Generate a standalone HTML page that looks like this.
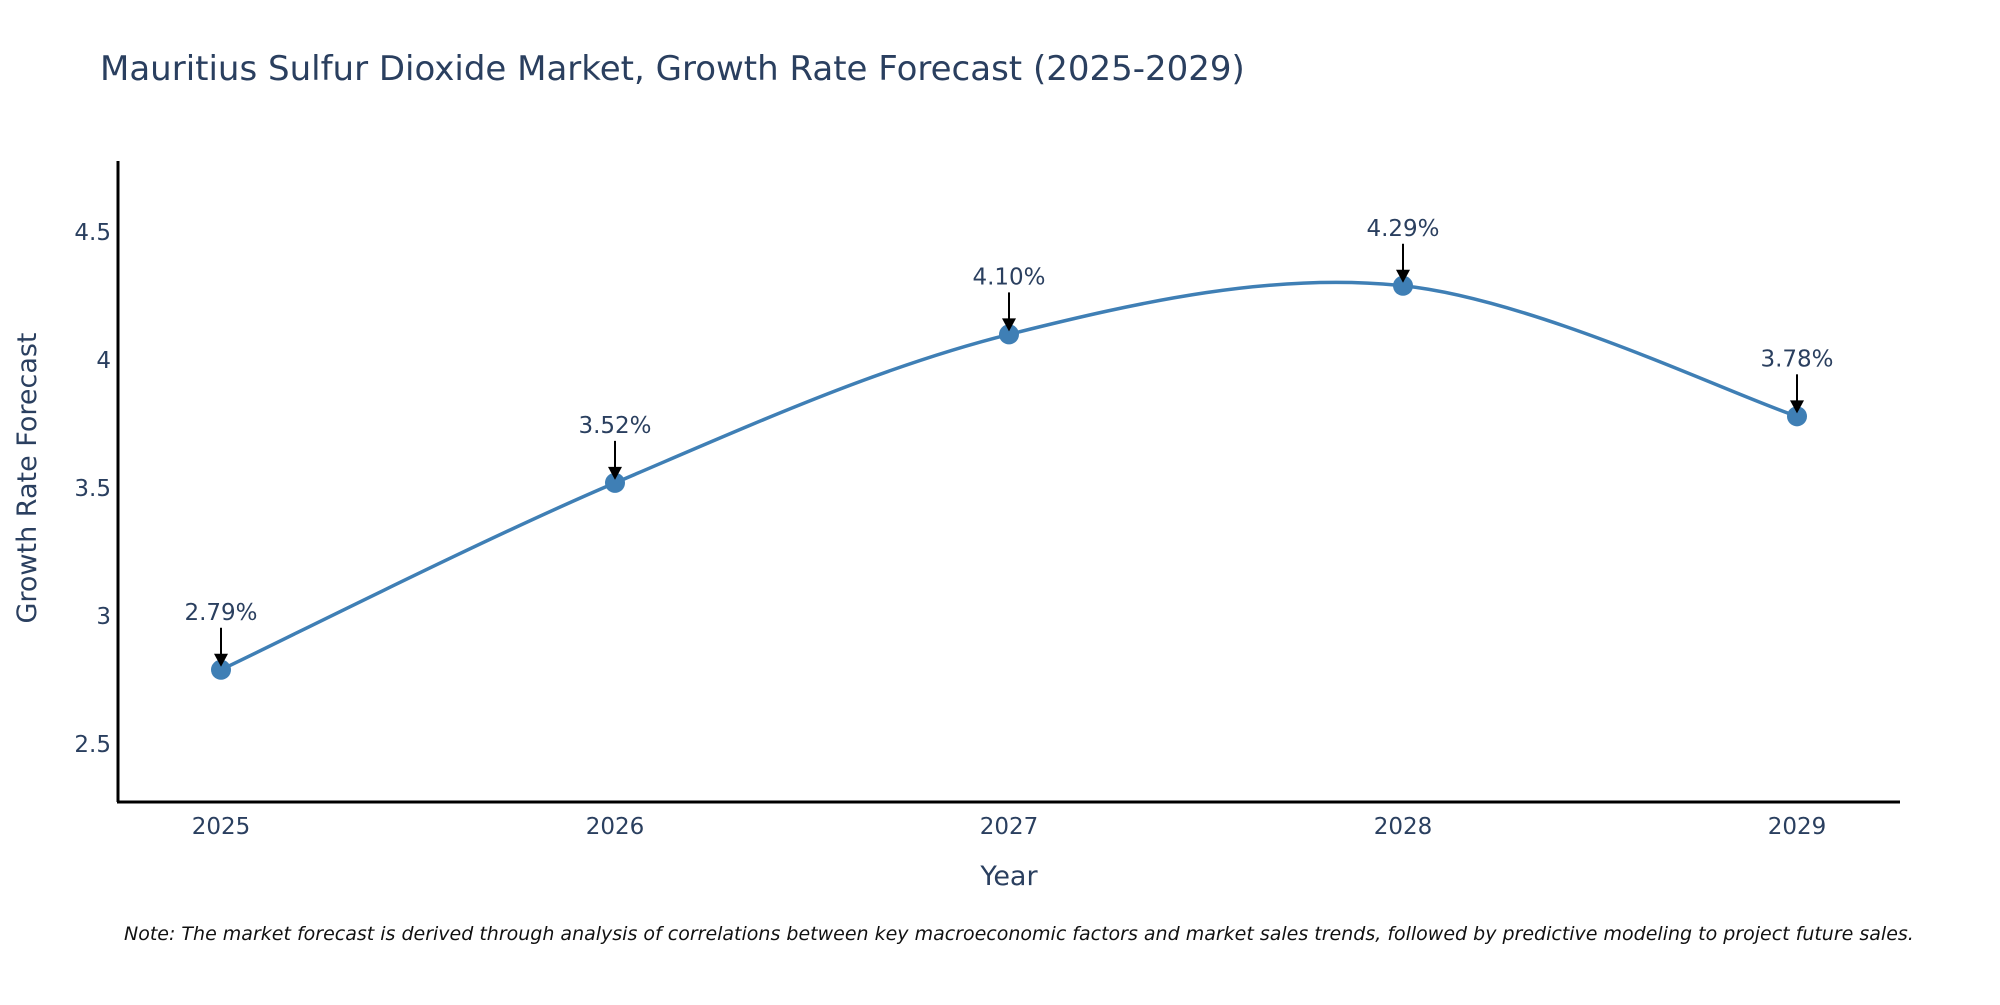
<!DOCTYPE html>
<html><head><meta charset="utf-8"><style>
body{margin:0;background:#fff;width:2000px;height:1000px;overflow:hidden}
text{font-family:"DejaVu Sans","Liberation Sans",sans-serif}
</style></head><body>
<svg id="chart" width="2000" height="1000" xmlns="http://www.w3.org/2000/svg">
<text x="100" y="80" font-size="34" fill="#2a3f5f">Mauritius Sulfur Dioxide Market, Growth Rate Forecast (2025-2029)</text>
<g id="yticks"></g>
<g id="xticks"></g>
<line x1="118" y1="161" x2="118" y2="802" stroke="#000" stroke-width="3"/>
<line x1="117" y1="802" x2="1900" y2="802" stroke="#000" stroke-width="3"/>
<text transform="translate(36,478) rotate(-90)" text-anchor="middle" font-size="27" fill="#2a3f5f">Growth Rate Forecast</text>
<text x="1009" y="885" text-anchor="middle" font-size="27" fill="#2a3f5f">Year</text>
<path id="line" fill="none" stroke="#3f7fb5" stroke-width="3.5"/>
<g id="points"></g>
<text x="124" y="940" font-size="19" font-style="italic" fill="#111">Note: The market forecast is derived through analysis of correlations between key macroeconomic factors and market sales trends, followed by predictive modeling to project future sales.</text>
</svg>
<script>
const years=[2025,2026,2027,2028,2029];
const values=[2.79,3.52,4.10,4.29,3.78];
const labels=["2.79%","3.52%","4.10%","4.29%","3.78%"];
const yTicks=[2.5,3,3.5,4,4.5];
const NS="http://www.w3.org/2000/svg";
function xs(v){return 221+(v-2025)*394;}
function ys(v){return 616-(v-3)*256;}
function mk(t,a,p){const e=document.createElementNS(NS,t);for(const k in a)e.setAttribute(k,a[k]);p.appendChild(e);return e;}
const yg=document.getElementById('yticks');
yTicks.forEach(t=>{const e=mk('text',{x:111,y:ys(t)+8,'text-anchor':'end','font-size':23,fill:'#2a3f5f'},yg);


e.textContent=String(t);});
const xg=document.getElementById('xticks');
years.forEach(y=>{const e=mk('text',{x:xs(y),y:834,'text-anchor':'middle','font-size':23,fill:'#2a3f5f'},xg);


e.textContent=String(y);});
const P=years.map((y,i)=>[xs(y),ys(values[i])]);
let d='M'+P[0][0]+','+P[0][1];
const s=0.5;
for(let i=0;i<P.length-1;i++){
 const p0=P[Math.max(0,i-1)],p1=P[i],p2=P[i+1],p3=P[Math.min(P.length-1,i+2)];
 const c1=[p1[0]+(p2[0]-p0[0])*s/3,p1[1]+(p2[1]-p0[1])*s/3];
 const c2=[p2[0]-(p3[0]-p1[0])*s/3,p2[1]-(p3[1]-p1[1])*s/3];
 d+=' C'+c1+' '+c2+' '+p2;
}
document.getElementById('line').setAttribute('d',d);
const pg=document.getElementById('points');
P.forEach((p,i)=>{
 const c=mk('circle',{cx:p[0],cy:p[1],r:10,fill:'#3f7fb5'},pg);
 
 
 const l=mk('line',{x1:p[0],y1:p[1]-42,x2:p[0],y2:p[1]-14,stroke:'#000','stroke-width':2},pg);
 
 
 const h=mk('polygon',{points:(p[0]-7)+','+(p[1]-16)+' '+(p[0]+7)+','+(p[1]-16)+' '+p[0]+','+(p[1]-3),fill:'#000'},pg);
 
 
 const t=mk('text',{x:p[0],y:p[1]-50,'text-anchor':'middle','font-size':23,fill:'#2a3f5f'},pg);
 
 
 t.textContent=labels[i];
});
</script>
</body></html>
